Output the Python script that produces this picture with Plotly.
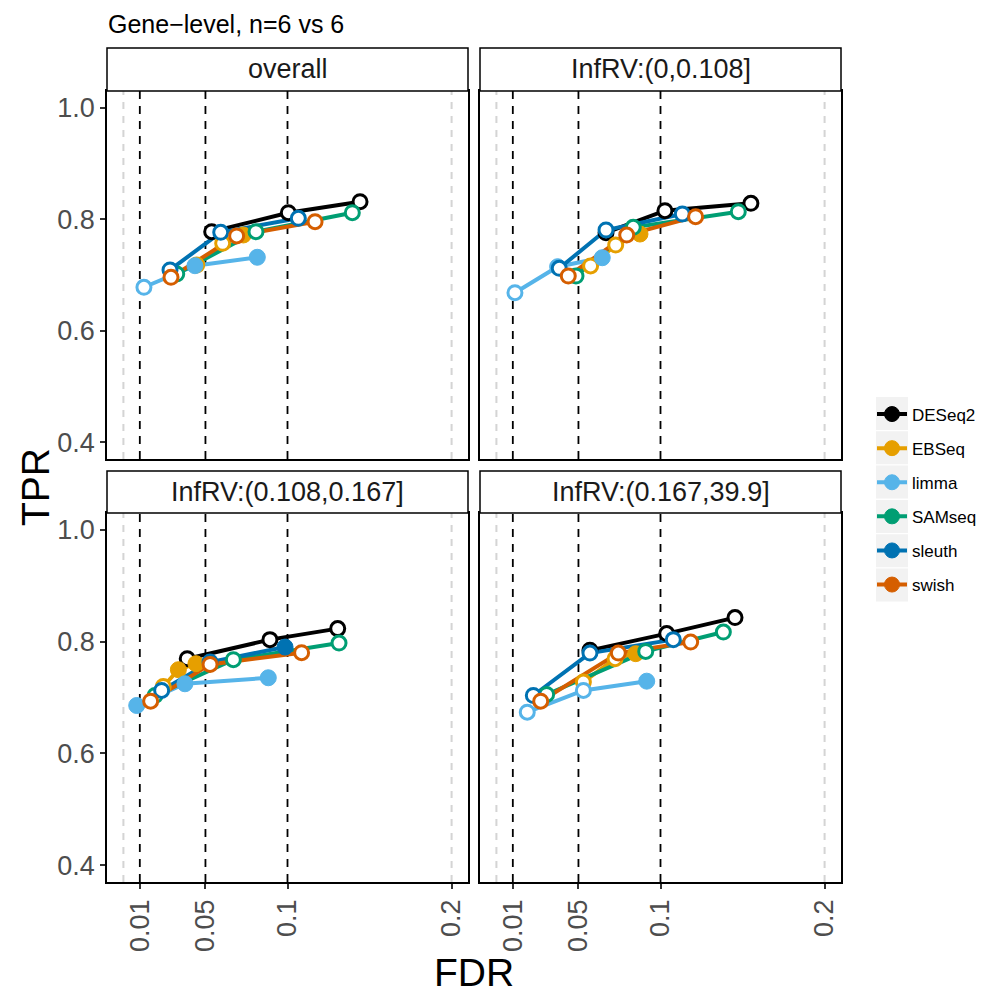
import plotly.graph_objects as go

METHODS = ["DESeq2", "EBSeq", "limma", "SAMseq", "sleuth", "swish"]
COLORS = ["#000000", "#E69F00", "#56B4E9", "#009E73", "#0072B2", "#D55E00"]
PANELS = ["overall", "InfRV:(0,0.108]", "InfRV:(0.108,0.167]", "InfRV:(0.167,39.9]"]

# rows follow METHODS order; 3 points each (thresholds 0.01, 0.05, 0.1)
FDR_OVERALL = [[0.0538, 0.1005, 0.1442], [0.0447, 0.0605, 0.0731], [0.0125, 0.0436, 0.0816],
               [0.0325, 0.0808, 0.1395], [0.0284, 0.0593, 0.1066], [0.0290, 0.0690, 0.1168]]
TPR_OVERALL = [[0.7777, 0.8117, 0.8315], [0.7180, 0.7569, 0.7718], [0.6780, 0.7167, 0.7318],
               [0.7018, 0.7777, 0.8117], [0.7090, 0.7766, 0.8017], [0.6959, 0.7700, 0.7956]]
CTRL_OVERALL = [[0, 0, 0], [0, 0, 1], [0, 1, 1], [0, 0, 0], [0, 0, 0], [0, 0, 0]]

FDR_LOW = [[0.0668, 0.1027, 0.1551], [0.0574, 0.0727, 0.0875], [0.0113, 0.0373, 0.0645],
           [0.0485, 0.0834, 0.1474], [0.0383, 0.0668, 0.1133], [0.0438, 0.0794, 0.1214]]
TPR_LOW = [[0.7759, 0.8153, 0.8286], [0.7162, 0.7538, 0.7735], [0.6683, 0.7149, 0.7310],
           [0.6982, 0.7856, 0.8136], [0.7120, 0.7807, 0.8094], [0.6982, 0.7717, 0.8046]]
CTRL_LOW = [[0, 0, 0], [0, 0, 1], [0, 1, 1], [0, 0, 0], [0, 0, 0], [0, 0, 0]]

FDR_MID = [[0.0389, 0.0893, 0.1306], [0.0243, 0.0335, 0.0442], [0.0081, 0.0375, 0.0883],
           [0.0193, 0.0670, 0.1314], [0.0233, 0.0528, 0.0985], [0.0166, 0.0528, 0.1086]]
TPR_MID = [[0.7694, 0.8035, 0.8232], [0.7197, 0.7497, 0.7605], [0.6857, 0.7246, 0.7353],
           [0.7036, 0.7676, 0.7974], [0.7126, 0.7633, 0.7902], [0.6934, 0.7592, 0.7802]]
CTRL_MID = [[0, 0, 0], [0, 1, 1], [1, 1, 1], [0, 0, 0], [0, 0, 1], [0, 0, 0]]

FDR_HIGH = [[0.0570, 0.1038, 0.1454], [0.0530, 0.0723, 0.0849], [0.0188, 0.0530, 0.0916],
            [0.0306, 0.0910, 0.1383], [0.0225, 0.0570, 0.1078], [0.0270, 0.0743, 0.1184]]
TPR_HIGH = [[0.7843, 0.8143, 0.8429], [0.7275, 0.7694, 0.7784], [0.6737, 0.7126, 0.7292],
            [0.7054, 0.7825, 0.8171], [0.7036, 0.7795, 0.8035], [0.6934, 0.7795, 0.7992]]
CTRL_HIGH = [[0, 0, 0], [0, 0, 1], [0, 0, 1], [0, 0, 0], [0, 0, 0], [0, 0, 0]]

THRESHOLDS = [0.01, 0.05, 0.1]
GREY_LINES = [0.0, 0.2]
X_TICKS = [0.01, 0.05, 0.1, 0.2]
X_TICKTEXT = ["0.01", "0.05", "0.1", "0.2"]
Y_TICKS = [0.4, 0.6, 0.8, 1.0]
Y_TICKTEXT = ["0.4", "0.6", "0.8", "1.0"]

DATA = [(FDR_OVERALL, TPR_OVERALL, CTRL_OVERALL), (FDR_LOW, TPR_LOW, CTRL_LOW),
        (FDR_MID, TPR_MID, CTRL_MID), (FDR_HIGH, TPR_HIGH, CTRL_HIGH)]

W, H = 981, 993
def px(v): return v / W
def py(v): return 1 - v / H

XDOM = [[px(107), px(468)], [px(480), px(841)]]
YDOM = [[py(459), py(91)], [py(882), py(513)]]
STRIP = [[py(91), py(48)], [py(513), py(471)]]

fig = go.Figure()
FONT = "Liberation Sans, Arial, sans-serif"
shapes, annotations = [], []

for p, (fdr, tpr, ctrl) in enumerate(DATA):
    suf = "" if p == 0 else str(p + 1)
    xa, ya = "x" + suf, "y" + suf
    # lines first
    for m, name in enumerate(METHODS):
        fig.add_trace(go.Scatter(x=fdr[m], y=tpr[m], mode="lines", xaxis=xa, yaxis=ya,
                                 line=dict(color=COLORS[m], width=4), showlegend=False,
                                 hoverinfo="skip"))
    # then points
    for m, name in enumerate(METHODS):
        fills = [COLORS[m] if c else "#FFFFFF" for c in ctrl[m]]
        sizes = [16 if c else 14 for c in ctrl[m]]
        widths = [1 if c else 3 for c in ctrl[m]]
        fig.add_trace(go.Scatter(x=fdr[m], y=tpr[m], mode="markers", xaxis=xa, yaxis=ya,
                                 marker=dict(color=fills, size=sizes, opacity=1,
                                             line=dict(color=COLORS[m], width=widths)),
                                 showlegend=False, name=name))
    row, col = p // 2, p % 2
    for t in GREY_LINES:
        shapes.append(dict(type="line", xref=xa, yref=ya + " domain", x0=t, x1=t, y0=0, y1=1,
                           line=dict(color="#d4d4d4", width=2, dash="7px,7px"), layer="below"))
    for t in THRESHOLDS:
        shapes.append(dict(type="line", xref=xa, yref=ya + " domain", x0=t, x1=t, y0=0, y1=1,
                           line=dict(color="#000000", width=1.8, dash="8px,7px"), layer="below"))
    shapes.append(dict(type="rect", xref="paper", yref="paper",
                       x0=XDOM[col][0], x1=XDOM[col][1], y0=STRIP[row][0], y1=STRIP[row][1],
                       fillcolor="white", line=dict(color="black", width=1.5)))
    annotations.append(dict(text=PANELS[p], xref="paper", yref="paper",
                            x=(XDOM[col][0] + XDOM[col][1]) / 2,
                            y=(STRIP[row][0] + STRIP[row][1]) / 2,
                            showarrow=False, xanchor="center", yanchor="middle",
                            font=dict(size=27, color="#1a1a1a", family=FONT)))
    fig.layout["xaxis" + suf] = dict(domain=XDOM[col], range=[-0.01, 0.21], anchor=ya,
                                     tickvals=X_TICKS, ticktext=X_TICKTEXT,
                                     showticklabels=(row == 1), ticks="outside" if row == 1 else "",
                                     ticklen=5, tickwidth=1.5, tickcolor="#333333", tickangle=-90,
                                     tickfont=dict(size=27, color="#4d4d4d", family=FONT),
                                     showline=True, mirror=True, linecolor="black", linewidth=1.5,
                                     showgrid=False, zeroline=False, fixedrange=True)
    fig.layout["yaxis" + suf] = dict(domain=YDOM[row], range=[0.37, 1.03], anchor=xa,
                                     tickvals=Y_TICKS, ticktext=Y_TICKTEXT,
                                     showticklabels=(col == 0), ticks="outside" if col == 0 else "",
                                     ticklen=5, tickwidth=1.5, tickcolor="#333333",
                                     tickfont=dict(size=27, color="#4d4d4d", family=FONT),
                                     showline=True, mirror=True, linecolor="black", linewidth=1.5,
                                     showgrid=False, zeroline=False, fixedrange=True)

# legend entries
for m, name in enumerate(METHODS):
    fig.add_trace(go.Scatter(x=[None], y=[None], mode="lines+markers", name=name,
                             legendgroup=name, line=dict(color=COLORS[m], width=4),
                             marker=dict(color=COLORS[m], size=15, opacity=1,
                                         line=dict(color=COLORS[m], width=1)),
                             showlegend=True))

# grey key backgrounds
for i in range(len(METHODS)):
    cy = 413.5 + i * 34.3
    shapes.append(dict(type="rect", xref="paper", yref="paper", x0=px(876), x1=px(908),
                       y0=py(cy + 16.5), y1=py(cy - 16.5), fillcolor="#f2f2f2",
                       line=dict(width=0), layer="below"))

annotations.append(dict(text="Gene\u2212level, n=6 vs 6", xref="paper", yref="paper",
                        x=px(106), y=py(24), xanchor="left", yanchor="middle", showarrow=False,
                        font=dict(size=25, color="black", family=FONT)))
annotations.append(dict(text="FDR", xref="paper", yref="paper", x=px(474), y=py(972),
                        xanchor="center", yanchor="middle", showarrow=False,
                        font=dict(size=39, color="black", family=FONT)))
annotations.append(dict(text="TPR", xref="paper", yref="paper", x=px(36), y=py(487),
                        xanchor="center", yanchor="middle", showarrow=False, textangle=-90,
                        font=dict(size=39, color="black", family=FONT)))

fig.update_layout(width=W, height=H, margin=dict(l=0, r=0, t=0, b=0, autoexpand=False),
                  paper_bgcolor="white", plot_bgcolor="white",
                  font=dict(family=FONT),
                  shapes=shapes, annotations=annotations,
                  legend=dict(x=px(872), y=py(396.5), xanchor="left", yanchor="top",
                              bgcolor="rgba(0,0,0,0)", tracegroupgap=9,
                              font=dict(size=17, color="black", family=FONT)),
                  showlegend=True)

fig.write_html("out.html", config={"displayModeBar": False},
               post_script="document.body.style.margin='0';document.body.style.overflow='hidden';")
